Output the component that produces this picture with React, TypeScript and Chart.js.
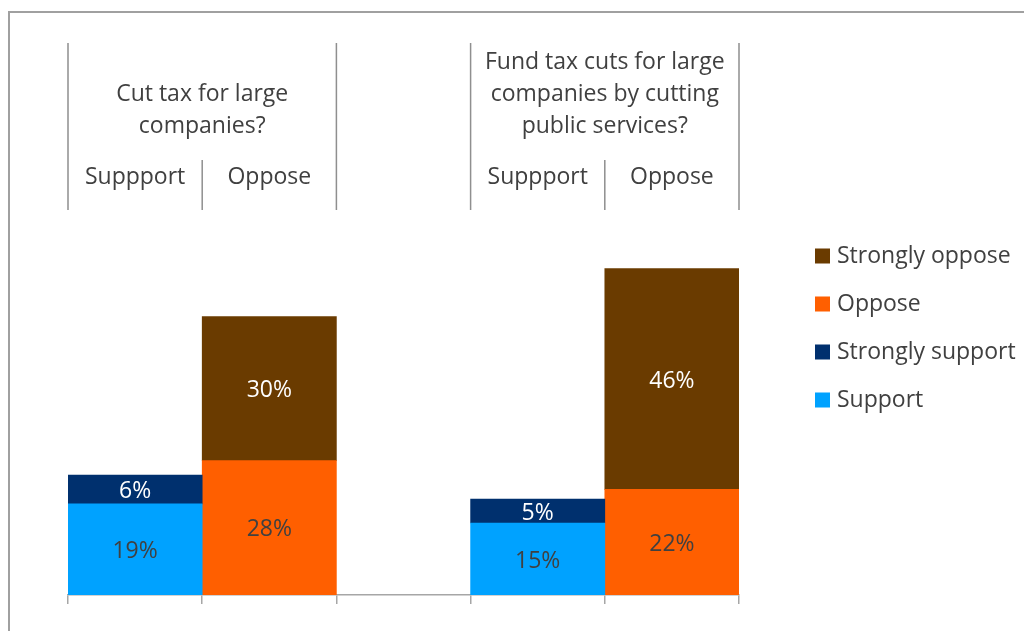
import React, { useEffect, useRef } from "react";
import { Chart, registerables } from "chart.js";

Chart.register(...registerables);

const categories = ["Suppport", "Oppose", "", "Suppport", "Oppose"];
const groupTitles = [
  ["Cut tax for large", "companies?"],
  ["Fund tax cuts for large", "companies by cutting", "public services?"],
];
const groupRanges = [
  [0, 1],
  [3, 4],
];
const seriesNames = ["Support", "Strongly support", "Oppose", "Strongly oppose"];
const supportValues = [19, null, null, 15, null];
const stronglySupportValues = [6, null, null, 5, null];
const opposeValues = [null, 28, null, null, 22];
const stronglyOpposeValues = [null, 30, null, null, 46];

const FONT_FAMILY = "'Open Sans', sans-serif";
const FONT_SIZE = 23;
const TEXT_COLOR = "#404040";
const LINE_COLOR = "#8f8f8f";
const AXIS_COLOR = "#a6a6a6";

const seriesColors = ["#00A2FF", "#00306E", "#FF5F00", "#6A3B00"];
const labelColors = [TEXT_COLOR, "#FFFFFF", TEXT_COLOR, "#FFFFFF"];

const headerPlugin = {
  id: "headerPlugin",
  afterDraw(chart: any) {
    const { ctx, chartArea, scales } = chart;
    const x = scales.x;
    const half = (x.getPixelForValue(1) - x.getPixelForValue(0)) / 2;
    const top = chartArea.top;
    const lineBottom = top + 167;
    const shortTop = top + 117;
    ctx.save();
    ctx.strokeStyle = LINE_COLOR;
    ctx.lineWidth = 1.5;
    ctx.fillStyle = TEXT_COLOR;
    ctx.font = `${FONT_SIZE}px ${FONT_FAMILY}`;
    ctx.textAlign = "center";
    ctx.textBaseline = "middle";
    groupRanges.forEach(([a, b], gi) => {
      const left = x.getPixelForValue(a) - half;
      const mid = x.getPixelForValue(a) + half;
      const right = x.getPixelForValue(b) + half;
      ctx.beginPath();
      ctx.moveTo(left, top);
      ctx.lineTo(left, lineBottom);
      ctx.moveTo(right, top);
      ctx.lineTo(right, lineBottom);
      ctx.moveTo(mid, shortTop);
      ctx.lineTo(mid, lineBottom);
      ctx.stroke();
      const lines = groupTitles[gi];
      const n = lines.length;
      lines.forEach((t, j) => {
        const y = top + 83 - (n - 1 - j) * 32;
        ctx.fillText(t, (left + right) / 2, y);
      });
      ctx.fillText(categories[a], x.getPixelForValue(a), top + 134);
      ctx.fillText(categories[b], x.getPixelForValue(b), top + 134);
    });
    ctx.restore();
  },
};

const valueLabelPlugin = {
  id: "valueLabelPlugin",
  afterDatasetsDraw(chart: any) {
    const { ctx } = chart;
    ctx.save();
    ctx.font = `${FONT_SIZE}px ${FONT_FAMILY}`;
    ctx.textAlign = "center";
    ctx.textBaseline = "middle";
    chart.data.datasets.forEach((ds: any, di: number) => {
      const meta = chart.getDatasetMeta(di);
      meta.data.forEach((el: any, i: number) => {
        const v = ds.data[i];
        if (v == null) return;
        const p = el.getProps(["x", "y", "base"], true);
        ctx.fillStyle = labelColors[di];
        ctx.fillText(`${v}%`, p.x, (p.y + p.base) / 2 + 2);
      });
    });
    ctx.restore();
  },
};

const legendPlugin = {
  id: "customLegend",
  afterDraw(chart: any) {
    const { ctx, chartArea } = chart;
    const boxX = chartArea.right + 76;
    const textX = chartArea.right + 98;
    const startY = chartArea.top + 213;
    const gap = 48;
    const box = 15;
    ctx.save();
    ctx.font = `${FONT_SIZE}px ${FONT_FAMILY}`;
    ctx.textAlign = "left";
    ctx.textBaseline = "middle";
    const ds = chart.data.datasets.slice().reverse();
    ds.forEach((d: any, i: number) => {
      const cy = startY + i * gap;
      ctx.fillStyle = d.backgroundColor;
      ctx.fillRect(boxX, cy - box / 2, box, box);
      ctx.fillStyle = TEXT_COLOR;
      ctx.fillText(d.label, textX, cy);
    });
    ctx.restore();
  },
};

export default function App() {
  const canvasRef = useRef<HTMLCanvasElement | null>(null);

  useEffect(() => {
    document.documentElement.style.overflow = "hidden";
    const canvas = canvasRef.current;
    if (!canvas) return;
    const values = [supportValues, stronglySupportValues, opposeValues, stronglyOpposeValues];
    const chart = new Chart(canvas, {
      type: "bar",
      data: {
        labels: categories,
        datasets: seriesNames.map((name, i) => ({
          label: name,
          data: values[i],
          backgroundColor: seriesColors[i],
          borderWidth: 0,
          barPercentage: 1,
          categoryPercentage: 1,
        })),
      },
      options: {
        animation: false,
        responsive: false,
        devicePixelRatio: 1,
        layout: { padding: { left: 58, right: 293, top: 30, bottom: 30 } },
        plugins: {
          legend: { display: false },
          tooltip: { enabled: false },
          title: { display: false },
        },
        scales: {
          x: {
            stacked: true,
            offset: true,
            grid: {
              display: true,
              drawOnChartArea: false,
              drawTicks: true,
              tickLength: 9,
              offset: true,
              color: AXIS_COLOR,
              lineWidth: 1.5,
            },
            border: { display: true, color: AXIS_COLOR, width: 1.5 },
            ticks: { display: false },
          },
          y: {
            stacked: true,
            display: false,
            min: 0,
            max: 115,
          },
        },
      },
      plugins: [headerPlugin, valueLabelPlugin, legendPlugin],
    });
    return () => chart.destroy();
  }, []);

  return (
    <div
      style={{
        position: "relative",
        top: 3,
        width: 1024,
        height: 623,
        borderTop: "2px solid #a0a0a0",
        borderLeft: "2px solid #a0a0a0",
        boxSizing: "border-box",
        background: "#ffffff",
      }}
    >
      <canvas
        ref={canvasRef}
        width={1022}
        height={621}
        style={{ display: "block", width: 1022, height: 621 }}
      />
    </div>
  );
}
